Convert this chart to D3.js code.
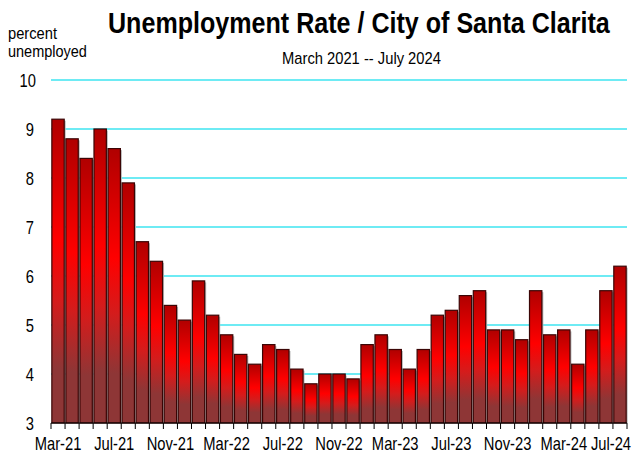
<!DOCTYPE html>
<html>
<head>
<meta charset="utf-8">
<script src="https://cdn.jsdelivr.net/npm/d3@7"></script>
<style>
  body { margin: 0; background: #fff; }
  text { font-family: "Liberation Sans Narrow", "Arial Narrow", "Liberation Sans", sans-serif; fill: #000; }
</style>
</head>
<body>
<div id="wrapper"></div>
<script>
const months = ["Mar-21","Apr-21","May-21","Jun-21","Jul-21","Aug-21","Sep-21","Oct-21","Nov-21","Dec-21",
  "Jan-22","Feb-22","Mar-22","Apr-22","May-22","Jun-22","Jul-22","Aug-22","Sep-22","Oct-22","Nov-22","Dec-22",
  "Jan-23","Feb-23","Mar-23","Apr-23","May-23","Jun-23","Jul-23","Aug-23","Sep-23","Oct-23","Nov-23","Dec-23",
  "Jan-24","Feb-24","Mar-24","Apr-24","May-24","Jun-24","Jul-24"];
const rates = [9.2, 8.8, 8.4, 9.0, 8.6, 7.9, 6.7, 6.3, 5.4, 5.1,
  5.9, 5.2, 4.8, 4.4, 4.2, 4.6, 4.5, 4.1, 3.8, 4.0, 4.0, 3.9,
  4.6, 4.8, 4.5, 4.1, 4.5, 5.2, 5.3, 5.6, 5.7, 4.9, 4.9, 4.7,
  5.7, 4.8, 4.9, 4.2, 4.9, 5.7, 6.2];
const shownLabels = ["Mar-21","Jul-21","Nov-21","Mar-22","Jul-22","Nov-22","Mar-23","Jul-23","Nov-23","Mar-24","Jul-24"];
const yTicks = [3, 4, 5, 6, 7, 8, 9, 10];

const data = months.map((m, i) => ({ month: m, rate: rates[i] }));

let dimensions = {
  width: 640,
  height: 453,
  margin: { top: 80, left: 51, bottom: 30, right: 13 }
};
dimensions.boundedWidth = dimensions.width - dimensions.margin.left - dimensions.margin.right;
dimensions.boundedHeight = dimensions.height - dimensions.margin.top - dimensions.margin.bottom;

const svg = d3.select("#wrapper").append("svg")
  .attr("width", dimensions.width)
  .attr("height", dimensions.height);

// bar gradient
const defs = svg.append("defs");
const grad = defs.append("linearGradient")
  .attr("id", "barGrad")
  .attr("x1", 0).attr("y1", 0).attr("x2", 0).attr("y2", 1);
grad.append("stop").attr("offset", "0%").attr("stop-color", "#b00000");
grad.append("stop").attr("offset", "40%").attr("stop-color", "#ff0000");
grad.append("stop").attr("offset", "60%").attr("stop-color", "#d41c1c");
grad.append("stop").attr("offset", "82%").attr("stop-color", "#8e3636");
grad.append("stop").attr("offset", "100%").attr("stop-color", "#8e3636");

const container = svg.append("g")
  .attr("transform", `translate(${dimensions.margin.left},${dimensions.margin.top})`);

const xScale = d3.scaleBand()
  .domain(months)
  .range([0, dimensions.boundedWidth])
  .paddingInner(0.12)
  .paddingOuter(0.06);

const yScale = d3.scaleLinear()
  .domain([3, 10])
  .range([dimensions.boundedHeight, 0]);

// gridlines
container.append("g")
  .selectAll("line")
  .data(yTicks.filter(d => d > 3))
  .join("line")
  .attr("x1", 0)
  .attr("x2", dimensions.boundedWidth)
  .attr("y1", d => yScale(d))
  .attr("y2", d => yScale(d))
  .attr("stroke", "#3ee4f0")
  .attr("stroke-width", 1.5);

// shadows
container.append("g")
  .selectAll("rect")
  .data(data)
  .join("rect")
  .attr("x", d => xScale(d.month) + 1.5)
  .attr("y", d => yScale(d.rate) + 1.5)
  .attr("width", xScale.bandwidth())
  .attr("height", d => yScale(3) - yScale(d.rate) - 1.5)
  .attr("fill", "#b8b8b8");

// bars
container.append("g")
  .selectAll("rect")
  .data(data)
  .join("rect")
  .attr("x", d => xScale(d.month))
  .attr("y", d => yScale(d.rate))
  .attr("width", xScale.bandwidth())
  .attr("height", d => yScale(3) - yScale(d.rate))
  .attr("fill", "url(#barGrad)")
  .attr("stroke", "#3a0505")
  .attr("stroke-width", 1.2);

// x axis, ticks between the bars
const step = xScale.step();
const edge = i => i === months.length
  ? xScale(months[i - 1]) + xScale.bandwidth() + xScale.paddingInner() * step / 2
  : xScale(months[i]) - xScale.paddingInner() * step / 2;
const axisG = container.append("g")
  .attr("transform", `translate(0,${dimensions.boundedHeight})`);
axisG.append("line")
  .attr("x1", 0).attr("x2", dimensions.boundedWidth)
  .attr("stroke", "#000").attr("stroke-width", 1.2);
axisG.selectAll(".tk")
  .data(d3.range(months.length + 1))
  .join("line")
  .attr("class", "tk")
  .attr("x1", edge).attr("x2", edge)
  .attr("y1", 0).attr("y2", 6)
  .attr("stroke", "#000");
axisG.selectAll(".lbl")
  .data(shownLabels)
  .join("text")
  .attr("class", "lbl")
  .attr("transform", d => `translate(${Math.min(xScale(d) + xScale.bandwidth() / 2, dimensions.boundedWidth - 16)},27) scale(0.82,1)`)
  .attr("text-anchor", "middle")
  .style("font-size", "18px")
  .text(d => d);

// y labels
container.append("g")
  .selectAll("text")
  .data(yTicks)
  .join("text")
  .attr("transform", d => `translate(${d === 10 ? -15 : -17},${yScale(d) + 6.5}) scale(0.82,1)`)
  .attr("text-anchor", "end")
  .style("font-size", "18px")
  .text(d => d);

// titles, squeezed to the narrow widths of the original
function fitText(str, x, y, width, size, weight) {
  const t = svg.append("text")
    .style("font-size", size + "px")
    .style("font-weight", weight || "normal")
    .text(str);
  const len = t.node().getComputedTextLength();
  t.attr("transform", `translate(${x},${y}) scale(${width / len},1)`);
  return t;
}
fitText("Unemployment Rate / City of Santa Clarita", 108, 33, 502, 30, "bold");
fitText("March 2021 -- July 2024", 282, 64, 159, 16);
fitText("percent", 8, 39, 49, 17);
fitText("unemployed", 8, 57, 79, 17);
</script>
</body>
</html>
